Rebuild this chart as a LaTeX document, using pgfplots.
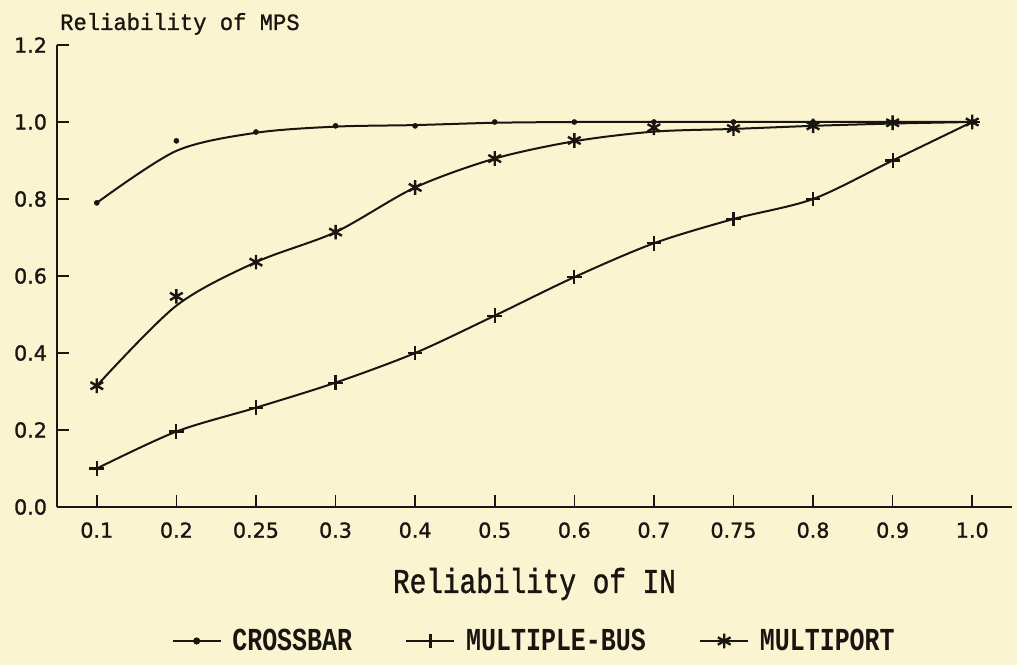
\documentclass[border=0pt]{standalone}
\usepackage{pgfplots}
\pgfplotsset{compat=1.18}
\usepackage{fontspec}
\setmainfont{DejaVu Sans}
\newfontfamily\tickfont[FakeBold=1.2]{DejaVu Sans}
\newfontfamily\lblfont[FakeStretch=0.8, FakeBold=1.2]{Liberation Mono}
\newfontfamily\titlefont[FakeStretch=0.95, FakeBold=1]{Liberation Mono}
\newfontfamily\legfont[FakeStretch=0.78]{Liberation Mono}
\usetikzlibrary{backgrounds}
\definecolor{bg}{RGB}{251,244,208}
\definecolor{ink}{RGB}{25,22,18}
\begin{document}
\begin{tikzpicture}
\begin{axis}[
  scale only axis, width=716.25pt, height=346.5pt,
  at={(0,0)}, anchor=south west,
  clip=false,
  xmin=-0.5, xmax=11.5, ymin=0, ymax=1.2,
  axis x line*=bottom, axis y line*=left,
  axis line style={ink, line width=1.4pt},
  xtick={0,1,2,3,4,5,6,7,8,9,10,11},
  xticklabels={0.1,0.2,0.25,0.3,0.4,0.5,0.6,0.7,0.75,0.8,0.9,1.0},
  ytick={0,0.2,0.4,0.6,0.8,1.0,1.2},
  yticklabels={0.0,0.2,0.4,0.6,0.8,1.0,1.2},
  tick align=inside, major tick length=9pt,
  tick style={ink, line width=1.2pt},
  ticklabel style={font=\tickfont\fontsize{15.5}{18}\selectfont, text=ink},
  xticklabel style={yshift=-8pt},
  yticklabel style={xshift=-4pt},
  xlabel={Reliability of IN},
  xlabel style={at={(axis description cs:0.5,-0.1861)}, anchor=base, inner sep=0pt,
    font=\lblfont\fontsize{26}{30}\selectfont, text=ink},
  legend columns=3,
  legend style={at={(axis description cs:0.5,-0.29)}, anchor=center, draw=none, fill=none,
    font=\legfont\bfseries\fontsize{24}{28}\selectfont, text=ink,
    /tikz/every even column/.append style={column sep=38pt},
    /tikz/every odd column/.append style={column sep=6pt}},
  legend image code/.code={\draw[mark repeat=2,mark phase=2,#1] plot coordinates {(0pt,0pt)(18pt,0pt)(36pt,0pt)};},
]
\coordinate (BL) at (rel axis cs:-0.05969,-0.34199);
\coordinate (TR) at (rel axis cs:1.005236,1.097403);
\node[anchor=base west, inner sep=0pt, text=ink, font=\titlefont\fontsize{17.5}{20}\selectfont]
  at (rel axis cs:0.0031,1.0325) {Reliability of MPS};

% CROSSBAR
\addplot[ink, line width=1.5pt, smooth, forget plot] coordinates {
 (0,0.79)(1,0.925)(2,0.972)(3,0.988)(4,0.992)(5,0.998)(6,1)(7,1)(8,1)(9,1)(10,1)(11,1)};
\addplot[ink, only marks, mark=*, mark size=1.9pt, forget plot] coordinates {
 (0,0.79)(1,0.951)(2,0.974)(3,0.99)(4,0.99)(5,1)(6,1)(7,1)(8,1)(9,1)(10,1)(11,1)};

% MULTIPLE-BUS
\addplot[ink, line width=1.5pt, smooth, mark=+, mark size=5.5pt, mark options={line width=1.6pt}, forget plot] coordinates {
 (0,0.10)(1,0.196)(2,0.258)(3,0.323)(4,0.40)(5,0.497)(6,0.597)(7,0.685)(8,0.748)(9,0.80)(10,0.90)(11,1.0)};

% MULTIPORT
\addplot[ink, line width=1.5pt, smooth, forget plot] coordinates {
 (0,0.315)(1,0.523)(2,0.636)(3,0.714)(4,0.83)(5,0.905)(6,0.95)(7,0.975)(8,0.982)(9,0.99)(10,0.996)(11,1)};
\addplot[ink, only marks, mark=asterisk, mark size=5.5pt, mark options={line width=1.8pt}, forget plot] coordinates {
 (0,0.315)(1,0.547)(2,0.636)(3,0.714)(4,0.83)(5,0.905)(6,0.952)(7,0.985)(8,0.983)(9,0.99)(10,0.998)(11,1.0)};

\addlegendimage{ink, line width=1.5pt, mark=*, mark size=1.9pt}
\addlegendentry{CROSSBAR}
\addlegendimage{ink, line width=1.5pt, mark=+, mark size=5.5pt, mark options={line width=1.6pt}}
\addlegendentry{MULTIPLE-BUS}
\addlegendimage{ink, line width=1.5pt, mark=asterisk, mark size=5.5pt, mark options={line width=1.8pt}}
\addlegendentry{MULTIPORT}
\end{axis}
\begin{scope}[on background layer]
\fill[bg] (BL) rectangle (TR);
\end{scope}
\end{tikzpicture}
\end{document}
